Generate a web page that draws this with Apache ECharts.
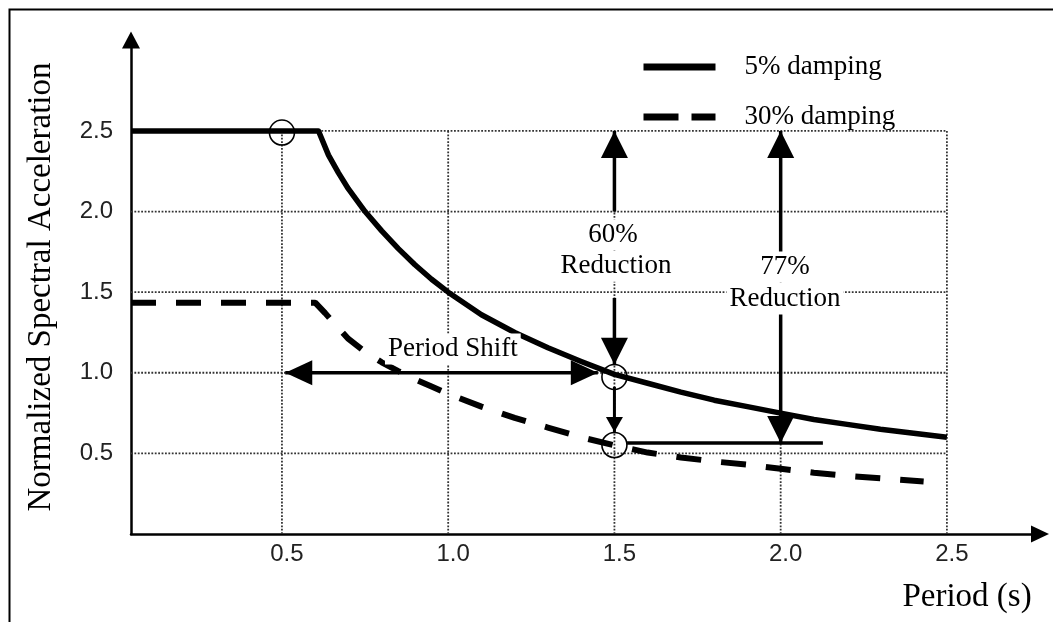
<!DOCTYPE html>
<html><head><meta charset="utf-8">
<script src="https://cdn.jsdelivr.net/npm/echarts@6/dist/echarts.min.js"></script>
<style>html,body{margin:0;padding:0;background:#fff}#c{width:1053px;height:622px}</style>
</head><body><div id="c"></div>
<script>
// ---- axis setup / ticks ----
const xTicks = [0.5, 1.0, 1.5, 2.0, 2.5];
const yTicks = [0.5, 1.0, 1.5, 2.0, 2.5];
const xMin = 0.046, xMax = 2.78, yMin = 0, yMax = 3.064;
const gridXMax = 2.5, gridYMax = 2.5;

// ---- 5% damping spectrum ----
const periodSolid = [0.046, 0.61, 0.64, 0.67, 0.7, 0.75, 0.8, 0.85, 0.9, 0.95, 1.0, 1.1, 1.2, 1.3, 1.4, 1.5, 1.6, 1.7, 1.8, 1.9, 2.0, 2.1, 2.2, 2.3, 2.4, 2.5];
const saSolid     = [2.5, 2.5, 2.35, 2.24, 2.14, 2.0, 1.88, 1.77, 1.67, 1.58, 1.5, 1.36, 1.25, 1.155, 1.07, 0.99, 0.935, 0.88, 0.83, 0.79, 0.75, 0.71, 0.68, 0.65, 0.625, 0.6];

// ---- 30% damping spectrum ----
const periodDashed = [0.046, 0.6, 0.63, 0.66, 0.7, 0.75, 0.8, 0.85, 0.9, 0.95, 1.0, 1.1, 1.2, 1.3, 1.4, 1.5, 1.6, 1.7, 1.8, 1.9, 2.0, 2.1, 2.2, 2.3, 2.43];
const saDashed     = [1.435, 1.435, 1.37, 1.3, 1.21, 1.13, 1.065, 1.01, 0.96, 0.915, 0.87, 0.79, 0.72, 0.66, 0.6, 0.55, 0.505, 0.475, 0.45, 0.43, 0.405, 0.38, 0.36, 0.345, 0.325];

// ---- annotations (data coordinates) ----
const circleX = [0.5, 1.5, 1.5];
const circleY = [2.49, 0.974, 0.552];
// [x1, y1, x2(tip), y2(tip)]
const bigArrows = [
  [1.5, 2.0, 1.5, 2.5],
  [1.5, 1.464, 1.5, 1.05],
  [2.0, 1.73, 2.0, 2.5],
  [2.0, 1.37, 2.0, 0.565]
];
const smallArrows = [[1.5, 0.912, 1.5, 0.633]];
const doubleArrows = [[0.51, 1.0, 1.45, 1.0]];
const plainLines = [[1.538, 0.565, 2.127, 0.565]];
const noteText = ['60%', 'Reduction', '77%', 'Reduction', 'Period Shift'];
const noteX = [1.496, 1.505, 2.013, 2.013, 1.014];
const noteY = [1.855, 1.66, 1.656, 1.458, 1.148];

const SERIF = '"Liberation Serif", "Times New Roman", serif';
const SANS = '"Liberation Sans", Arial, sans-serif';

// grid line segments built from tick arrays
const gridSegs = [];
xTicks.forEach(x => gridSegs.push([x, 0, x, gridYMax]));
yTicks.forEach(y => gridSegs.push([xMin, y, gridXMax, y]));

function segSeries(name, data, z, styleFn) {
  return {
    type: 'custom', name, z, silent: true, clip: false,
    dimensions: ['x1', 'y1', 'x2', 'y2'],
    encode: { x: [0, 2], y: [1, 3] },
    data,
    renderItem: (params, api) => styleFn(
      api.coord([api.value(0), api.value(1)]),
      api.coord([api.value(2), api.value(3)])
    )
  };
}

function head(tip, from, L, W) {
  const dx = tip[0] - from[0], dy = tip[1] - from[1];
  const len = Math.hypot(dx, dy) || 1;
  const ux = dx / len, uy = dy / len;
  const bx = tip[0] - ux * L, by = tip[1] - uy * L;
  const px = -uy * W / 2, py = ux * W / 2;
  return { type: 'polygon', shape: { points: [[tip[0], tip[1]], [bx + px, by + py], [bx - px, by - py]] }, style: { fill: '#000' } };
}

function arrowRender(L, W, lw, both) {
  return (p1, p2) => {
    const children = [
      { type: 'line', shape: { x1: p1[0], y1: p1[1], x2: p2[0], y2: p2[1] }, style: { stroke: '#000', lineWidth: lw } },
      head(p2, p1, L, W)
    ];
    if (both) children.push(head(p1, p2, L, W));
    return { type: 'group', children };
  };
}

const chart = echarts.init(document.getElementById('c'));
chart.setOption({
  animation: false,
  backgroundColor: '#fff',
  grid: { left: 131, right: 13, top: 40, bottom: 88 },
  legend: {
    orient: 'vertical', left: 635, top: 47, selectedMode: false,
    itemWidth: 72, itemHeight: 30, itemGap: 20,
    textStyle: { fontFamily: SERIF, fontSize: 27, color: '#000', lineHeight: 30, padding: [0, 0, 0, 24] },
    data: [
      { name: '5% damping', lineStyle: { width: 7, type: 'solid' }, itemStyle: { color: 'rgba(0,0,0,0)', borderColor: 'rgba(0,0,0,0)', borderWidth: 0 } },
      { name: '30% damping', lineStyle: { width: 7, type: [35, 13] }, itemStyle: { color: 'rgba(0,0,0,0)', borderColor: 'rgba(0,0,0,0)', borderWidth: 0 } }
    ]
  },
  xAxis: {
    type: 'value', min: xMin, max: xMax,
    axisLine: { show: true, lineStyle: { color: '#000', width: 2.5 }, symbol: ['none', 'triangle'], symbolSize: [17, 18] },
    axisTick: { show: false },
    splitLine: { show: false },
    axisLabel: {
      customValues: xTicks, margin: 8, padding: [0, 0, 0, 10],
      fontFamily: SANS, fontSize: 24, color: '#222',
      formatter: v => xTicks.some(t => Math.abs(t - v) < 1e-6) ? v.toFixed(1) : ''
    }
  },
  yAxis: {
    type: 'value', min: yMin, max: yMax, interval: 0.5,
    name: 'Normalized Spectral Acceleration', nameLocation: 'middle', nameRotate: 90, nameGap: 73,
    nameTextStyle: { fontFamily: SERIF, fontSize: 33, color: '#000' },
    axisLine: { show: true, lineStyle: { color: '#000', width: 2.5 }, symbol: ['none', 'triangle'], symbolSize: [18, 17] },
    axisTick: { show: false },
    splitLine: { show: false },
    axisLabel: {
      margin: 18, fontFamily: SANS, fontSize: 24, color: '#222',
      formatter: v => yTicks.some(t => Math.abs(t - v) < 1e-6) ? v.toFixed(1) : ''
    }
  },
  graphic: [
    { type: 'rect', left: 7, top: 7, silent: true, shape: { width: 1100, height: 700 }, style: { fill: 'none', stroke: '#000', lineWidth: 2 } },
    { type: 'text', x: 967, y: 597, silent: true, style: { text: 'Period (s)', font: '33px ' + SERIF, fill: '#000', align: 'center', verticalAlign: 'middle' } }
  ],
  series: [
    segSeries('grid', gridSegs, 1, (p1, p2) => ({
      type: 'line', shape: { x1: p1[0], y1: p1[1], x2: p2[0], y2: p2[1] },
      style: { stroke: '#333', lineWidth: 1.8, lineDash: [1.8, 1.6] }
    })),
    {
      name: '5% damping', type: 'line', z: 3, silent: true, symbol: 'none', showSymbol: false,
      smooth: false,
      data: periodSolid.map((t, i) => [t, saSolid[i]]),
      lineStyle: { color: '#000', width: 5.5, join: 'round' }, itemStyle: { color: '#000' }
    },
    {
      name: '30% damping', type: 'line', z: 3, silent: true, symbol: 'none', showSymbol: false,
      smooth: false,
      data: periodDashed.map((t, i) => [t, saDashed[i]]),
      lineStyle: { color: '#000', width: 6, type: [25, 20], cap: 'butt' }, itemStyle: { color: '#000' }
    },
    {
      name: 'points', type: 'scatter', z: 4, silent: true, symbol: 'circle', symbolSize: 25,
      data: circleX.map((x, i) => [x, circleY[i]]),
      itemStyle: { color: 'rgba(0,0,0,0)', borderColor: '#000', borderWidth: 1.6, opacity: 1 }
    },
    segSeries('bigArrows', bigArrows, 5, arrowRender(27, 27, 3.5, false)),
    segSeries('smallArrows', smallArrows, 5, arrowRender(15, 17, 3, false)),
    segSeries('doubleArrows', doubleArrows, 5, arrowRender(27, 25, 3.5, true)),
    segSeries('plainLines', plainLines, 5, (p1, p2) => ({
      type: 'line', shape: { x1: p1[0], y1: p1[1], x2: p2[0], y2: p2[1] }, style: { stroke: '#000', lineWidth: 3.5 }
    })),
    {
      name: 'notes', type: 'custom', z: 6, silent: true, clip: false,
      dimensions: ['x', 'y'],
      encode: { x: 0, y: 1 },
      data: noteX.map((x, i) => [x, noteY[i]]),
      renderItem: (params, api) => {
        const p = api.coord([api.value(0), api.value(1)]);
        return {
          type: 'text', x: p[0], y: p[1],
          style: {
            text: noteText[params.dataIndex], font: '27px ' + SERIF, fill: '#000',
            align: 'center', verticalAlign: 'middle', backgroundColor: '#fff', padding: [2, 3]
          }
        };
      }
    }
  ]
});
</script>
</body></html>
